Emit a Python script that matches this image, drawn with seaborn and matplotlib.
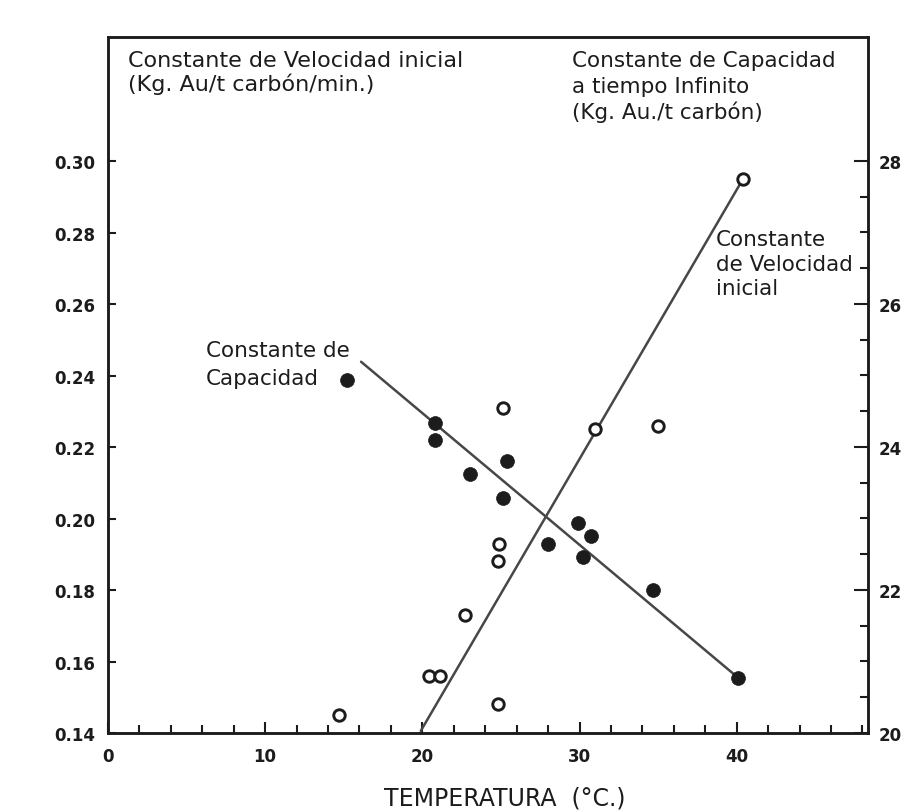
import numpy as np
import pandas as pd
import matplotlib
matplotlib.use("Agg")
import matplotlib.pyplot as plt
import seaborn as sns

# Temperature (°C) and capacity constant at infinite time (Kg. Au./t carbón) - right axis
temp_cap = [15.2, 20.8, 20.8, 23.0, 25.4, 25.1, 28.0, 29.9, 30.7, 30.2, 34.7, 40.1]
cap = [24.93, 24.34, 24.10, 23.62, 23.80, 23.29, 22.64, 22.94, 22.75, 22.46, 22.00, 20.77]

# Temperature (°C) and initial rate constant (Kg. Au/t carbón/min.) - left axis
temp_vel = [14.7, 20.4, 21.1, 22.7, 24.8, 24.9, 24.8, 25.1, 31.0, 35.0, 40.4]
vel = [0.145, 0.156, 0.156, 0.173, 0.188, 0.193, 0.148, 0.231, 0.225, 0.226, 0.295]

# Hand-drawn trend lines
cap_line_temp = [16.1, 40.1]
cap_line = [25.19, 20.77]
vel_line_temp = [19.9, 40.4]
vel_line = [0.1406, 0.295]

# Axis tick values
x_major = [0, 10, 20, 30, 40]
left_ticks = [0.14, 0.16, 0.18, 0.20, 0.22, 0.24, 0.26, 0.28, 0.30]
right_ticks = [20, 22, 24, 26, 28]

sns.set_style("ticks")
plt.rcParams["font.family"] = ["DejaVu Sans"]

INK = "#1c1c1c"
LINE = "#474747"

W, H = 909, 812
fig = plt.figure(figsize=(W / 100, H / 100), dpi=100)
fig.patch.set_facecolor("white")
ax = fig.add_axes([108 / W, 78 / H, (868 - 108) / W, (734 - 38) / H])
ax2 = ax.twinx()

ax.set_xlim(0, 48.35)
ax.set_ylim(0.14, 0.3347)
ax2.set_ylim(20, 29.73)

df_vel = pd.DataFrame({"T": temp_vel, "v": vel})
df_cap = pd.DataFrame({"T": temp_cap, "c": cap})
df_vline = pd.DataFrame({"T": vel_line_temp, "v": vel_line})
df_cline = pd.DataFrame({"T": cap_line_temp, "c": cap_line})

sns.lineplot(data=df_vline, x="T", y="v", ax=ax, color=LINE, lw=1.8, legend=False)
sns.lineplot(data=df_cline, x="T", y="c", ax=ax2, color=LINE, lw=1.8, legend=False)
sns.scatterplot(data=df_vel, x="T", y="v", ax=ax, s=68, marker="o",
                facecolor="white", edgecolor=INK, linewidth=2.1, zorder=5, legend=False)
sns.scatterplot(data=df_cap, x="T", y="c", ax=ax2, s=100, marker="o",
                color=INK, edgecolor=INK, linewidth=0.5, zorder=5, legend=False)

for a in (ax, ax2):
    a.set_xlabel("")
    a.set_ylabel("")
    for sp in a.spines.values():
        sp.set_color(INK)
        sp.set_linewidth(1.8)

# x axis: labels every 10, small marks every 2
ax.set_xticks(x_major)
ax.set_xticks(np.arange(2, 48.1, 2), minor=True)
ax.set_xticklabels([str(v) for v in x_major], fontweight="bold", fontsize=12, color=INK)
ax.tick_params(axis="x", which="major", direction="in", length=8, width=1.5, pad=10, colors=INK)
ax.tick_params(axis="x", which="minor", direction="in", length=6, width=1.5, colors=INK)

# left axis
ax.set_yticks(left_ticks)
ax.set_yticklabels([f"{v:.2f}" for v in left_ticks], fontweight="bold", fontsize=12, color=INK)
ax.tick_params(axis="y", which="major", direction="in", length=6, width=1.5, pad=9, colors=INK)
ax.tick_params(axis="y", which="minor", left=False)

# right axis
ax2.set_yticks(right_ticks)
ax2.set_yticks(np.arange(20.5, 28.1, 0.5), minor=True)
ax2.set_yticklabels([str(v) for v in right_ticks], fontweight="bold", fontsize=12, color=INK)
ax2.tick_params(axis="y", which="major", direction="in", length=10, width=1.5, pad=8, colors=INK)
ax2.tick_params(axis="y", which="minor", direction="in", length=6, width=1.5, colors=INK)


def put(text, x, y, size=15.5, **kw):
    fig.text(x / W, 1 - y / H, text, fontsize=size, color=INK,
             ha=kw.pop("ha", "left"), va="baseline", **kw)


put("Constante de Velocidad inicial", 128, 67, size=16)
put("(Kg. Au/t carbón/min.)", 128, 91, size=16)

put("Constante de Capacidad", 572, 67)
put("a tiempo Infinito", 572, 93)
put("(Kg. Au./t carbón)", 572, 119)

put("Constante", 716, 246)
put("de Velocidad", 716, 271)
put("inicial", 716, 295)

put("Constante de", 206, 357)
put("Capacidad", 206, 385)

put("TEMPERATURA  (°C.)", 505, 806, size=17, ha="center")

fig.savefig("out.png", dpi=100, facecolor="white")
